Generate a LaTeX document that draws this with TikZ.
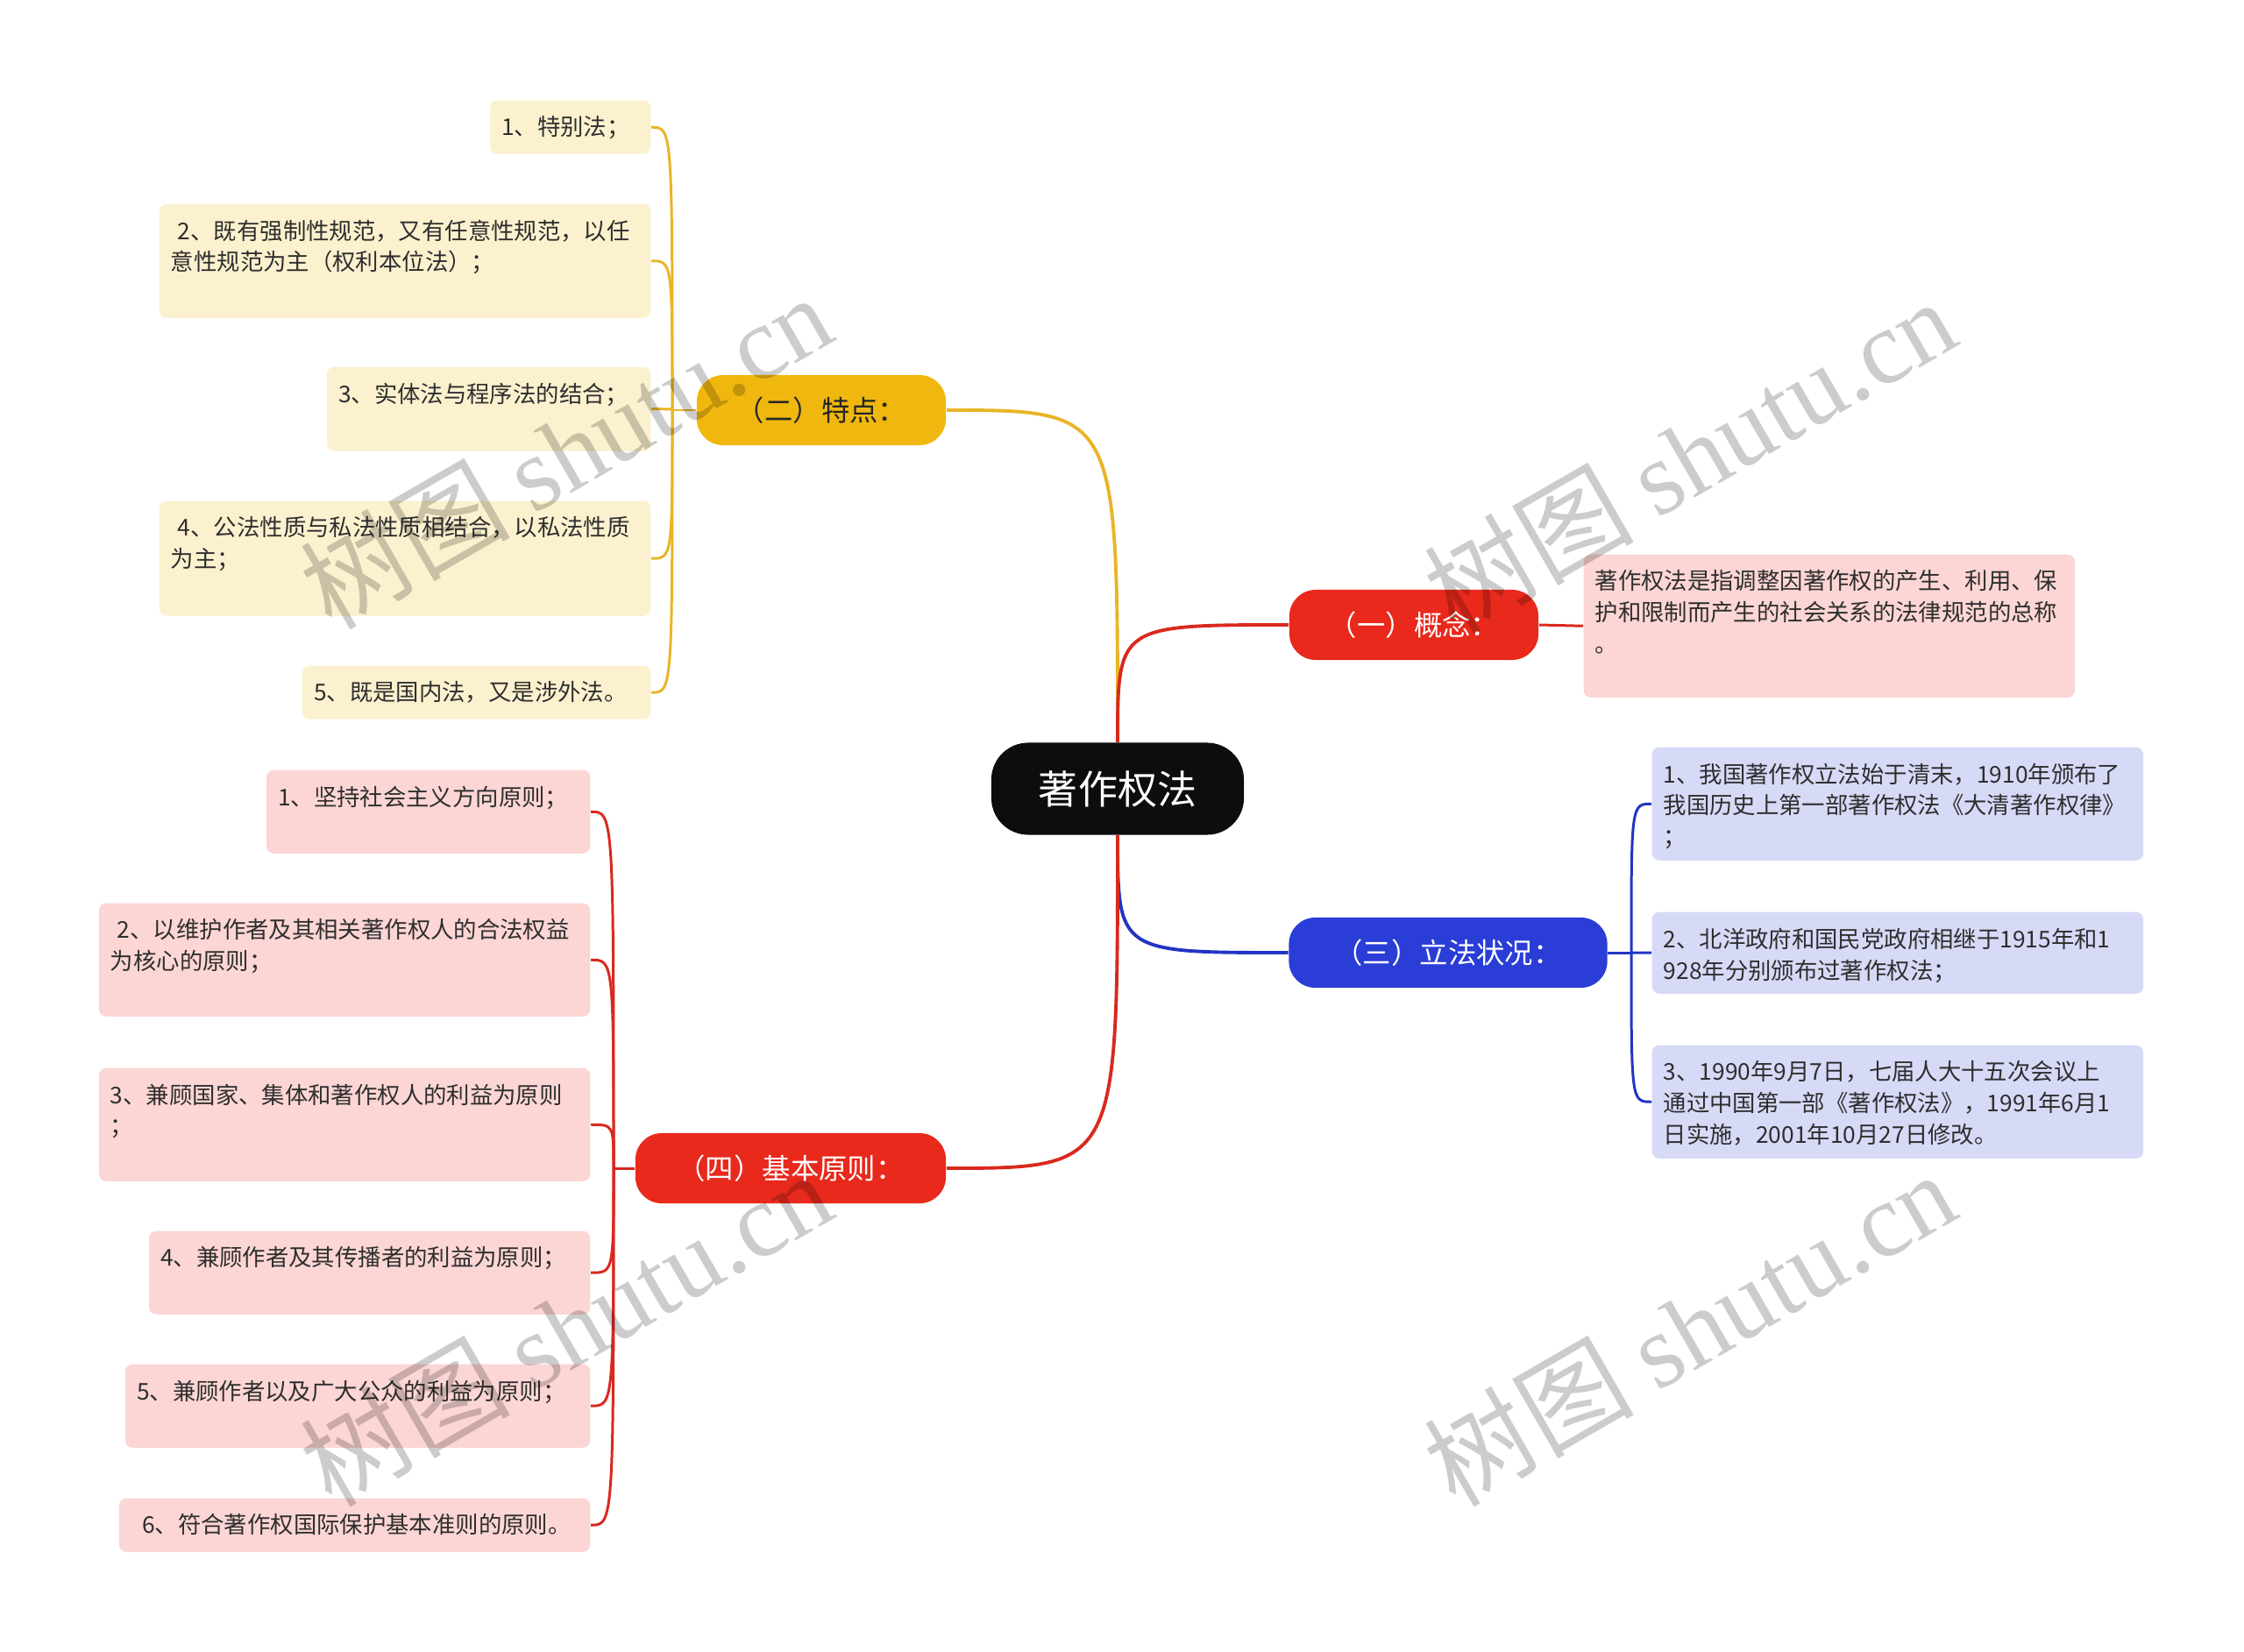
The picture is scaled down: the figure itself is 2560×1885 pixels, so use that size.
\documentclass[tikz,border=0pt]{standalone}
\usepackage{fontspec}
\setmainfont{Noto Sans CJK SC}
\newfontfamily\wmfont{Liberation Serif}
\definecolor{mapred}{HTML}{E8291C}
\definecolor{mapyellow}{HTML}{F0B80E}
\definecolor{mapblue}{HTML}{2A3DD6}
\definecolor{linered}{HTML}{D9291E}
\definecolor{lineyellow}{HTML}{E9B526}
\definecolor{lineblue}{HTML}{2234C4}
\definecolor{leafred}{HTML}{FBD6D4}
\definecolor{leafyellow}{HTML}{FCF1CF}
\definecolor{leafblue}{HTML}{D6DAF6}
\newcommand{\leafbox}[3]{\parbox[c][#2cm][t]{#1cm}{\raggedright #3}}

\begin{document}
\begin{tikzpicture}[x=0.01cm, y=-0.01cm]
  \tikzset{
    root_node/.style={fill=black!95, text=white, rounded corners=0.42cm, minimum width=2.88cm, minimum height=1.05cm, inner sep=0pt, font=\fontsize{12.8}{15}\selectfont},
    main_node/.style={text=white, rounded corners=0.3cm, minimum height=0.8cm, inner sep=0pt, font=\fontsize{9.2}{11}\selectfont},
    leaf/.style={rounded corners=0.08cm, inner xsep=0.13cm, inner ysep=0.18cm, text=black!82, font=\fontsize{7.5}{10.2}\selectfont},
    red_leaf/.style={leaf, fill=leafred},
    yellow_leaf/.style={leaf, fill=leafyellow, anchor=north east},
    blue_leaf/.style={leaf, fill=leafblue, anchor=north west},
    red_line/.style={draw=linered, line width=0.85pt},
    yellow_line/.style={draw=lineyellow, line width=0.85pt},
    blue_line/.style={draw=lineblue, line width=0.85pt},
    wm/.style={rotate=30, text=black, opacity=0.2, font=\fontsize{34}{40}\selectfont}
  }

  % Marco de la figura
  \useasboundingbox (0,0) rectangle (2560,1885);

  % Nodo central
  \node[root_node] (root) at (1275,900) {著作权法};

  % Ramas principales
  \node[main_node, fill=mapred, minimum width=2.84cm] (gainian) at (1613,713) {（一）概念：};
  \node[main_node, fill=mapyellow, text=black!85, minimum width=2.84cm] (tedian) at (937,468) {（二）特点：};
  \node[main_node, fill=mapblue, minimum width=3.63cm] (lifa) at (1652,1087) {（三）立法状况：};
  \node[main_node, fill=mapred, minimum width=3.54cm] (yuanze) at (902,1333) {（四）基本原则：};

  % Hojas de (一)
  \node[red_leaf, anchor=north west] (gn1) at (1806,632) {\leafbox{5.34}{1.27}{著作权法是指调整因著作权的产生、利用、保\\护和限制而产生的社会关系的法律规范的总称\\。}};

  % Hojas de (二)
  \node[yellow_leaf] (td1) at (743,114) {\leafbox{1.57}{0.25}{1、特别法；}};
  \node[yellow_leaf] (td2) at (743,232) {\leafbox{5.34}{0.94}{\hspace{0.3em}2、既有强制性规范，又有任意性规范，以任\\意性规范为主（权利本位法）；}};
  \node[yellow_leaf] (td3) at (743,418) {\leafbox{3.43}{0.60}{3、实体法与程序法的结合；}};
  \node[yellow_leaf] (td4) at (743,571) {\leafbox{5.34}{0.95}{\hspace{0.3em}4、公法性质与私法性质相结合，以私法性质\\为主；}};
  \node[yellow_leaf] (td5) at (743,759) {\leafbox{3.71}{0.25}{5、既是国内法，又是涉外法。}};

  % Hojas de (三)
  \node[blue_leaf] (lf1) at (1884,852) {\leafbox{5.34}{0.93}{1、我国著作权立法始于清末，1910年颁布了\\我国历史上第一部著作权法《大清著作权律》\\；}};
  \node[blue_leaf] (lf2) at (1884,1040) {\leafbox{5.34}{0.57}{2、北洋政府和国民党政府相继于1915年和1\\928年分别颁布过著作权法；}};
  \node[blue_leaf] (lf3) at (1884,1192) {\leafbox{5.34}{0.93}{3、1990年9月7日，七届人大十五次会议上\\通过中国第一部《著作权法》，1991年6月1\\日实施，2001年10月27日修改。}};

  % Hojas de (四)
  \node[red_leaf, anchor=north east] (yz1) at (674,878) {\leafbox{3.43}{0.59}{1、坚持社会主义方向原则；}};
  \node[red_leaf, anchor=north east] (yz2) at (674,1030) {\leafbox{5.34}{0.93}{\hspace{0.3em}2、以维护作者及其相关著作权人的合法权益\\为核心的原则；}};
  \node[red_leaf, anchor=north east] (yz3) at (674,1218) {\leafbox{5.34}{0.93}{3、兼顾国家、集体和著作权人的利益为原则\\；}};
  \node[red_leaf, anchor=north east] (yz4) at (674,1404) {\leafbox{4.77}{0.59}{4、兼顾作者及其传播者的利益为原则；}};
  \node[red_leaf, anchor=north east] (yz5) at (674,1556) {\leafbox{5.04}{0.59}{5、兼顾作者以及广大公众的利益为原则；}};
  \node[red_leaf, anchor=north east] (yz6) at (674,1709) {\leafbox{5.11}{0.25}{\hspace{0.5em}6、符合著作权国际保护基本准则的原则。}};

  % Conexiones desde el nodo central
  \draw[yellow_line, line width=1.1pt] (root.north) .. controls (root.north |- tedian.east) .. (tedian.east);
  \draw[red_line, line width=1.1pt] (root.north) .. controls (root.north |- gainian.west) .. (gainian.west);
  \draw[blue_line, line width=1.1pt] (root.south) .. controls (root.south |- lifa.west) .. (lifa.west);
  \draw[red_line, line width=1.1pt] (root.south) .. controls (root.south |- yuanze.east) .. (yuanze.east);

  % Conexion de (一)
  \draw[red_line] (gainian.east) -- (gn1.west);

  % Conexiones de (二)
  \coordinate (jtd) at (767,468);
  \draw[yellow_line] (tedian.west) -- (jtd);
  \draw[yellow_line] (jtd) .. controls (jtd |- td1.east) .. (td1.east);
  \draw[yellow_line] (jtd) .. controls (jtd |- td2.east) .. (td2.east);
  \draw[yellow_line] (jtd) .. controls (jtd |- td3.east) .. (td3.east);
  \draw[yellow_line] (jtd) .. controls (jtd |- td4.east) .. (td4.east);
  \draw[yellow_line] (jtd) .. controls (jtd |- td5.east) .. (td5.east);

  % Conexiones de (三)
  \coordinate (jlf) at (1861,1087);
  \draw[blue_line] (lifa.east) -- (jlf);
  \draw[blue_line] (jlf) .. controls (jlf |- lf1.west) .. (lf1.west);
  \draw[blue_line] (jlf) .. controls (jlf |- lf2.west) .. (lf2.west);
  \draw[blue_line] (jlf) .. controls (jlf |- lf3.west) .. (lf3.west);

  % Conexiones de (四)
  \coordinate (jyz) at (700,1333);
  \draw[red_line] (yuanze.west) -- (jyz);
  \draw[red_line] (jyz) .. controls (jyz |- yz1.east) .. (yz1.east);
  \draw[red_line] (jyz) .. controls (jyz |- yz2.east) .. (yz2.east);
  \draw[red_line] (jyz) .. controls (jyz |- yz3.east) .. (yz3.east);
  \draw[red_line] (jyz) .. controls (jyz |- yz4.east) .. (yz4.east);
  \draw[red_line] (jyz) .. controls (jyz |- yz5.east) .. (yz5.east);
  \draw[red_line] (jyz) .. controls (jyz |- yz6.east) .. (yz6.east);

  % Marcas de agua
  \node[wm] (wm1) at (645,514) {树图 {\wmfont shutu.cn}};
  \node[wm] (wm2) at (1927,519) {树图 {\wmfont shutu.cn}};
  \node[wm] (wm3) at (645,1515) {树图 {\wmfont shutu.cn}};
  \node[wm] (wm4) at (1927,1515) {树图 {\wmfont shutu.cn}};
\end{tikzpicture}
\end{document}
